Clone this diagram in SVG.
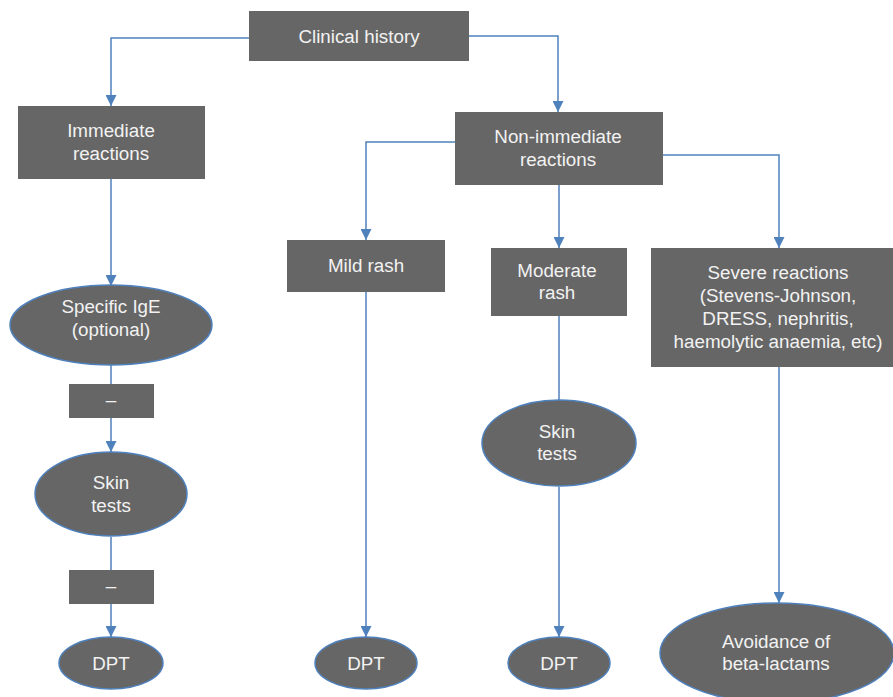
<svg xmlns="http://www.w3.org/2000/svg" width="893" height="697" viewBox="0 0 893 697">
<defs>
<marker id="arr" viewBox="0 0 10 10" refX="10" refY="5" markerWidth="11" markerHeight="11" markerUnits="userSpaceOnUse" orient="auto">
<path d="M0,0 L10,5 L0,10 Z" fill="#4f81bd"/>
</marker>
<style>
.box{fill:#666666;}
.ell{fill:#666666;stroke:#4f81bd;stroke-width:1.5;}
.t{font-family:"Liberation Sans",Arial,sans-serif;font-size:18.8px;fill:#f2f2f2;text-anchor:middle;}
.c{fill:none;stroke:#4f81bd;stroke-width:1.5;}
.a{marker-end:url(#arr);}
</style>
</defs>
<rect width="893" height="697" fill="#ffffff"/>
<g id="connectors">
<path class="c a" d="M249,38 H111 V106"/>
<path class="c a" d="M469,36 H558 V112"/>
<path class="c a" d="M455,142 H366 V240"/>
<path class="c a" d="M559,185 V248"/>
<path class="c a" d="M663,155 H779 V248"/>
<path class="c a" d="M111,179 V286"/>
<path class="c" d="M111,365 V384"/>
<path class="c a" d="M111,418 V452"/>
<path class="c" d="M111,537 V570"/>
<path class="c a" d="M111,604 V637"/>
<path class="c a" d="M366,292 V637"/>
<path class="c" d="M559,316 V400"/>
<path class="c a" d="M559,487 V637"/>
<path class="c a" d="M779,367 V603"/>
</g>
<g id="clinical-history"><rect class="box" x="249" y="11" width="220" height="50"/><text class="t" x="359" y="43">Clinical history</text></g>
<g id="immediate"><rect class="box" x="18" y="106" width="187" height="73"/><text class="t" x="111" y="137">Immediate</text><text class="t" x="111" y="160">reactions</text></g>
<g id="non-immediate"><rect class="box" x="455" y="112" width="208" height="73"/><text class="t" x="558" y="143">Non-immediate</text><text class="t" x="558" y="166">reactions</text></g>
<g id="specific-ige"><ellipse class="ell" cx="111" cy="325" rx="101" ry="40"/><text class="t" x="111" y="313">Specific IgE</text><text class="t" x="111" y="336">(optional)</text></g>
<g id="neg1"><rect class="box" x="69" y="384" width="85" height="34"/><text class="t" x="111" y="406">–</text></g>
<g id="skin-left"><ellipse class="ell" cx="111" cy="494" rx="76" ry="42"/><text class="t" x="111" y="489">Skin</text><text class="t" x="111" y="512">tests</text></g>
<g id="neg2"><rect class="box" x="69" y="570" width="85" height="34"/><text class="t" x="111" y="592">–</text></g>
<g id="dpt-left"><ellipse class="ell" cx="111" cy="663" rx="52" ry="26"/><text class="t" x="111" y="670">DPT</text></g>
<g id="mild-rash"><rect class="box" x="287" y="240" width="158" height="52"/><text class="t" x="366" y="272">Mild rash</text></g>
<g id="dpt-mild"><ellipse class="ell" cx="366" cy="663" rx="51" ry="26"/><text class="t" x="366" y="670">DPT</text></g>
<g id="moderate-rash"><rect class="box" x="491" y="248" width="136" height="68"/><text class="t" x="557" y="277">Moderate</text><text class="t" x="557" y="299">rash</text></g>
<g id="skin-mid"><ellipse class="ell" cx="559" cy="443" rx="77" ry="43"/><text class="t" x="557" y="438">Skin</text><text class="t" x="557" y="460">tests</text></g>
<g id="dpt-mod"><ellipse class="ell" cx="559" cy="663" rx="51" ry="26"/><text class="t" x="559" y="670">DPT</text></g>
<g id="severe"><rect class="box" x="651" y="248" width="242" height="119"/><text class="t" x="778" y="279">Severe reactions</text><text class="t" x="778" y="302">(Stevens-Johnson,</text><text class="t" x="778" y="325">DRESS, nephritis,</text><text class="t" x="778" y="348">haemolytic anaemia, etc)</text></g>
<g id="avoidance"><ellipse class="ell" cx="777" cy="653" rx="117" ry="50"/><text class="t" x="776" y="648">Avoidance of</text><text class="t" x="776" y="670">beta-lactams</text></g>
</svg>
